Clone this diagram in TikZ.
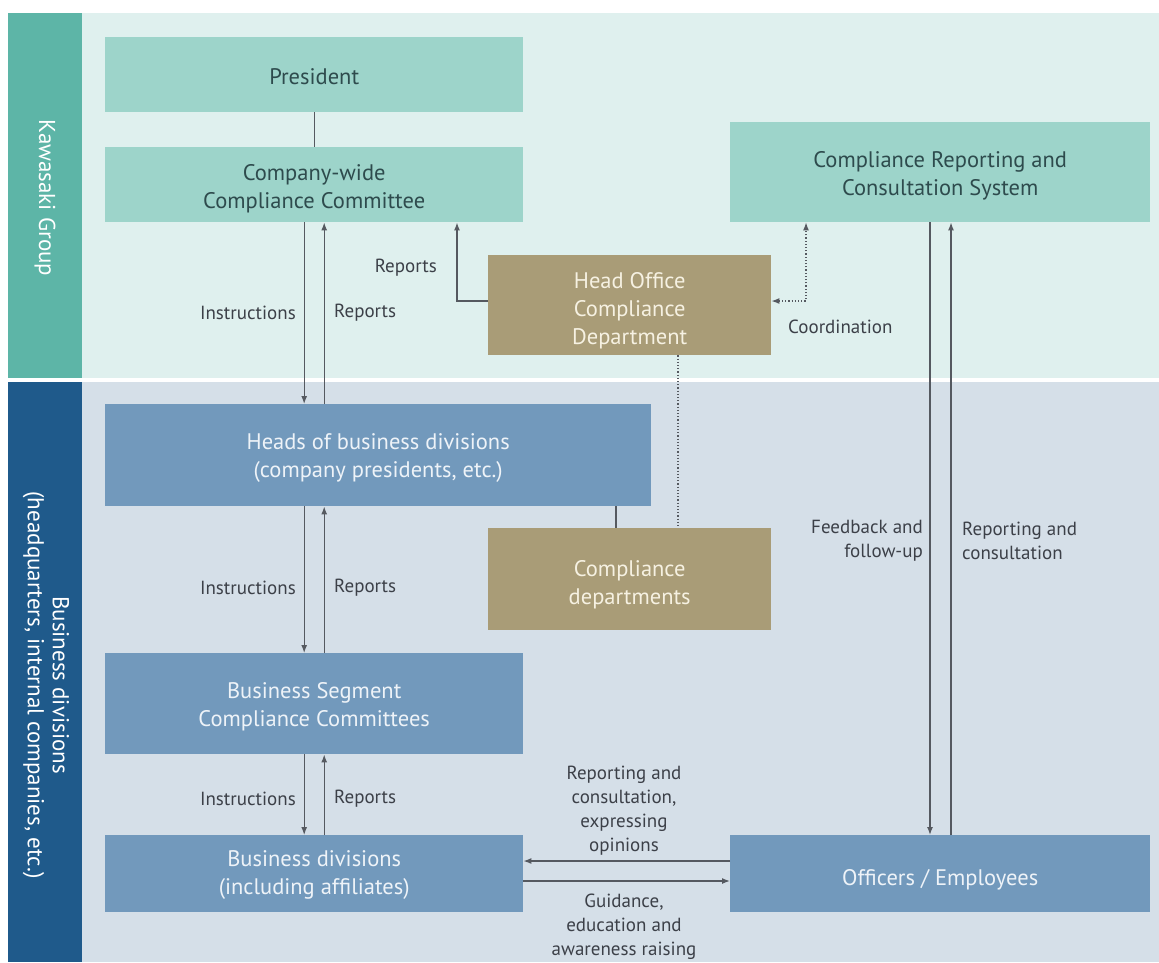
\documentclass[tikz,border=0pt]{standalone}
\usepackage{fontspec}
\setmainfont{PT Sans}
\usetikzlibrary{arrows.meta,positioning}
\definecolor{topbg}{HTML}{DFF0EE}
\definecolor{botbg}{HTML}{D5DFE8}
\definecolor{topstrip}{HTML}{5DB5A7}
\definecolor{botstrip}{HTML}{1F5A8B}
\definecolor{tealbox}{HTML}{9DD4CA}
\definecolor{bluebox}{HTML}{7299BC}
\definecolor{tanbox}{HTML}{A99C77}
\definecolor{tealtext}{HTML}{2E4B4D}
\definecolor{bluetext}{HTML}{EEF3F8}
\definecolor{tantext}{HTML}{F6F1E2}
\definecolor{linec}{HTML}{555960}
\definecolor{labc}{HTML}{3C4048}
\newcommand{\boxtxt}[2][4pt]{\raisebox{-#1}[\height][\depth]{\begin{tabular}{@{}c@{}}#2\end{tabular}}}
\tikzset{
  box/.style={anchor=north west, inner sep=0pt, align=center, font=\fontsize{22.5}{28}\selectfont},
  teal/.style={box, fill=tealbox, text=tealtext},
  blue/.style={box, fill=bluebox, text=bluetext},
  tan/.style={box, fill=tanbox, text=tantext},
  arr/.style={draw=linec, line width=1.3pt, -{Latex[length=8pt,width=6pt]}},
  plain/.style={draw=linec, line width=1.3pt},
  dot/.style={draw=linec, line width=1.2pt, dotted},
  lab/.style={font=\fontsize{19}{24}\selectfont, text=labc, inner sep=0pt},
  strip/.style={rotate=-90, text=white, font=\fontsize{23}{25}\selectfont, align=center}
}
\begin{document}
\begin{tikzpicture}[x=1pt,y=-1pt]
\useasboundingbox (0,0) rectangle (1159,962);
\fill[white] (0,0) rectangle (1159,962);
% backgrounds
\fill[topbg] (82,13) rectangle (1159,378);
\fill[topstrip] (8,13) rectangle (82,378);
\fill[botbg] (82,382) rectangle (1159,962);
\fill[botstrip] (8,382) rectangle (82,962);
\node[strip] (kg) at (45,198) {Kawasaki Group};
\node[strip] (bdl) at (46,685) {Business divisions\\(headquarters, internal companies, etc.)};
% boxes
\node[teal, minimum width=418pt, minimum height=75pt] (pres) at (105,37) {\boxtxt{President}};
\node[teal, minimum width=418pt, minimum height=75pt] (cwcc) at (105,147) {\boxtxt{Company-wide\\Compliance Committee}};
\node[teal, minimum width=420pt, minimum height=100pt] (crcs) at (730,122) {\boxtxt{Compliance Reporting and\\Consultation System}};
\node[tan, minimum width=283pt, minimum height=100pt] (hocd) at (488,255) {\boxtxt[6pt]{Head Office\\Compliance\\Department}};
\node[blue, minimum width=546pt, minimum height=102pt] (heads) at (105,404) {\boxtxt[3pt]{Heads of business divisions\\(company presidents, etc.)}};
\node[tan, minimum width=283pt, minimum height=102pt] (cd) at (488,528) {\boxtxt[6pt]{Compliance\\departments}};
\node[blue, minimum width=418pt, minimum height=101pt] (bscc) at (105,653) {\boxtxt[3pt]{Business Segment\\Compliance Committees}};
\node[blue, minimum width=418pt, minimum height=77pt] (bd) at (105,835) {\boxtxt[1pt]{Business divisions\\(including affiliates)}};
\node[blue, minimum width=420pt, minimum height=77pt] (oe) at (730,835) {\boxtxt[6pt]{Officers / Employees}};
% connectors
\draw[plain] (pres.south) -- (cwcc.north);
\draw[arr] ([xshift=-10pt]cwcc.south) -- ([xshift=-10pt]cwcc.south |- heads.north);
\draw[arr] ([xshift=10pt]cwcc.south |- heads.north) -- ([xshift=10pt]cwcc.south);
\coordinate (rk) at (457,301);
\draw[arr] (hocd.west |- rk) -- (rk) -- (rk |- cwcc.south);
\coordinate (co) at (806,301);
\draw[dot, {Latex[length=8pt,width=6pt]}-{Latex[length=8pt,width=6pt]}] (hocd.east |- co) -- (co) -- (co |- crcs.south);
\coordinate (dv) at (678,355);
\draw[dot] (hocd.south -| dv) -- (cd.north -| dv);
\coordinate (hv) at (616,506);
\draw[plain] (heads.south -| hv) -- (cd.north -| hv);
\draw[arr] ([xshift=-10pt]cwcc.south |- heads.south) -- ([xshift=-10pt]cwcc.south |- bscc.north);
\draw[arr] ([xshift=10pt]cwcc.south |- bscc.north) -- ([xshift=10pt]cwcc.south |- heads.south);
\draw[arr] ([xshift=-10pt]bscc.south) -- ([xshift=-10pt]bscc.south |- bd.north);
\draw[arr] ([xshift=10pt]bscc.south |- bd.north) -- ([xshift=10pt]bscc.south);
\coordinate (fx) at (930,0);
\coordinate (rx) at (951,0);
\draw[arr] (crcs.south -| fx) -- (oe.north -| fx);
\draw[arr] (oe.north -| rx) -- (crcs.south -| rx);
\coordinate (h1) at (0,861);
\coordinate (h2) at (0,881);
\draw[arr] (oe.west |- h1) -- (bd.east |- h1);
\draw[arr] (bd.east |- h2) -- (oe.west |- h2);
% labels
\node[lab, anchor=east] (l1) at (296,313) {Instructions};
\node[lab, anchor=west] (l2) at (334,313) {Reports};
\node[lab, anchor=east] (l3) at (437,268) {Reports};
\node[lab, anchor=west] (l4) at (788,327) {Coordination};
\node[lab, anchor=east] (l5) at (296,588) {Instructions};
\node[lab, anchor=west] (l6) at (334,588) {Reports};
\node[lab, anchor=east] (l7) at (296,799) {Instructions};
\node[lab, anchor=west] (l8) at (334,799) {Reports};
\node[lab, anchor=east, align=right] (l9) at (923,541) {Feedback and\\follow-up};
\node[lab, anchor=west, align=left] (l10) at (962,541) {Reporting and\\consultation};
\node[lab, align=center, anchor=south] (l11) at (624,855) {Reporting and\\consultation,\\expressing\\opinions};
\node[lab, align=center, anchor=north] (l12) at (624,894) {Guidance,\\education and\\awareness raising};
\end{tikzpicture}
\end{document}
